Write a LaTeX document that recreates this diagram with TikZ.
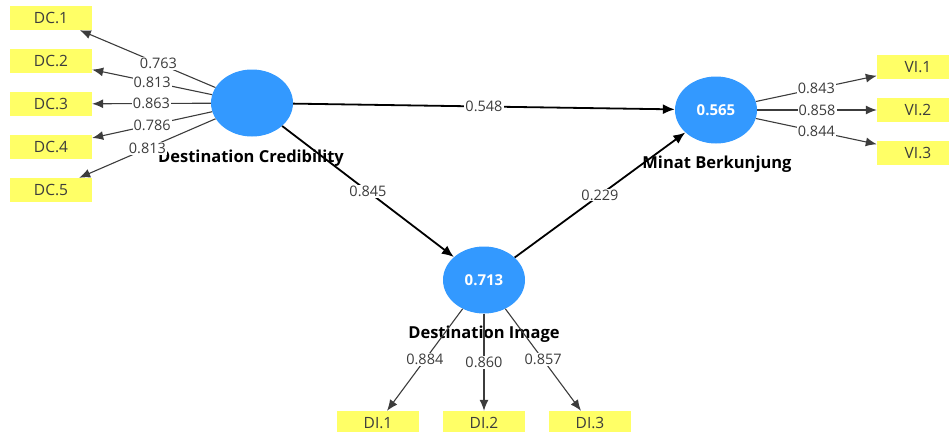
\documentclass[tikz,border=0pt]{standalone}
\usepackage{fontspec}
\setmainfont{Open Sans}
\usetikzlibrary{shapes.geometric}
\usetikzlibrary{arrows.meta}
\definecolor{lvblue}{RGB}{51,153,255}
\definecolor{indyellow}{RGB}{255,255,102}
\definecolor{coefgray}{RGB}{60,60,60}

\begin{document}
\begin{tikzpicture}[x=1pt,y=-1pt,
    lv/.style={ellipse, fill=lvblue, minimum width=82pt, minimum height=67pt, inner sep=0pt, text=white, font=\fontsize{15}{17}\selectfont\bfseries},
    ind/.style={rectangle, fill=indyellow, minimum width=82pt, minimum height=24pt, inner sep=0pt, text=coefgray, font=\fontsize{15.5}{17}\selectfont},
    lvname/.style={font=\fontsize{16.5}{19}\selectfont\bfseries},
    coef/.style={fill=white, inner sep=1pt, text=coefgray, font=\fontsize{14.5}{16}\selectfont},
    inner/.style={line width=1.8pt, -{Latex[length=12pt,width=10pt]}},
    outer/.style={line width=1.1pt, draw=coefgray, -{Latex[length=11pt,width=9pt]}}]
    \useasboundingbox (0,0) rectangle (949,431);

    % latent variables
    \node[lv] (DC) at (252,103) {};
    \node[lv] (MB) at (716,110) {0.565};
    \node[lv] (DI) at (484,280) {0.713};
    \node[lvname] (DCname) at (251,158) {Destination Credibility};
    \node[lvname] (MBname) at (717,164) {Minat Berkunjung};
    \node[lvname] (DIname) at (484,334) {Destination Image};

    % indicators
    \node[ind] (DC1) at (51,18) {DC.1};
    \node[ind] (DC2) at (51,61) {DC.2};
    \node[ind] (DC3) at (51,104) {DC.3};
    \node[ind] (DC4) at (51,147) {DC.4};
    \node[ind] (DC5) at (51,190) {DC.5};
    \node[ind] (VI1) at (918,67) {VI.1};
    \node[ind] (VI2) at (918,110) {VI.2};
    \node[ind] (VI3) at (918,153) {VI.3};
    \node[ind] (DI1) at (378,423) {DI.1};
    \node[ind] (DI2) at (484,423) {DI.2};
    \node[ind] (DI3) at (590,423) {DI.3};

    % inner model
    \draw[inner] (DC) -- node[coef]{0.548} (MB);
    \draw[inner] (DC) -- node[coef]{0.845} (DI);
    \draw[inner] (DI) -- node[coef]{0.229} (MB);

    % outer model
    \draw[outer] (DC) -- node[coef,pos=0.42]{0.763} (DC1);
    \draw[outer] (DC) -- node[coef]{0.813} (DC2);
    \draw[outer] (DC) -- node[coef]{0.863} (DC3);
    \draw[outer] (DC) -- node[coef]{0.786} (DC4);
    \draw[outer] (DC) -- node[coef]{0.813} (DC5);
    \draw[outer] (MB) -- node[coef]{0.843} (VI1);
    \draw[outer] (MB) -- node[coef]{0.858} (VI2);
    \draw[outer] (MB) -- node[coef]{0.844} (VI3);
    \draw[outer] (DI) -- node[coef]{0.884} (DI1);
    \draw[outer] (DI) -- node[coef]{0.860} (DI2);
    \draw[outer] (DI) -- node[coef]{0.857} (DI3);
\end{tikzpicture}
\end{document}
